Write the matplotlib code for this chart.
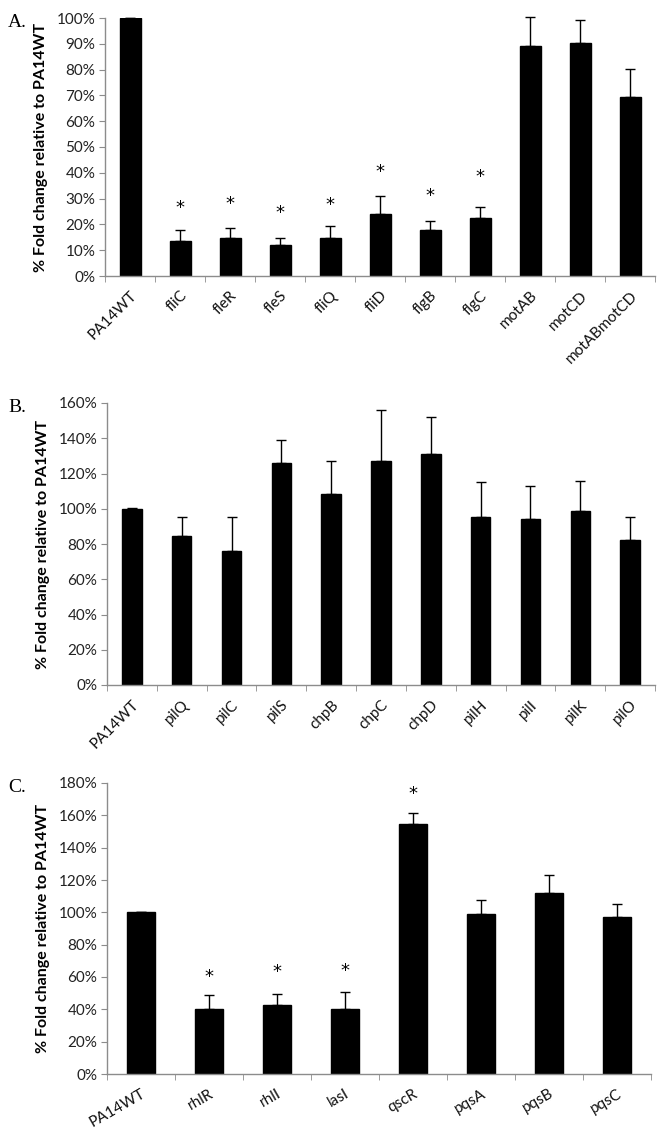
import numpy as np
import matplotlib
matplotlib.use("Agg")
import matplotlib.pyplot as plt
from matplotlib.ticker import FuncFormatter, FixedLocator

# ---------------- data ----------------
cats_a = ["PA14WT", "fliC", "fleR", "fleS", "fliQ", "fliD", "flgB", "flgC", "motAB", "motCD", "motABmotCD"]
vals_a = [100, 13.4, 14.8, 11.9, 14.8, 24.0, 17.8, 22.3, 89.2, 90.3, 69.2]
err_a = [0, 4.3, 3.8, 2.9, 4.7, 7.1, 3.4, 4.4, 11.2, 9.1, 10.9]
star_a = [np.nan, 26.2, 27.9, 24.3, 27.7, 40.3, 31.2, 38.2, np.nan, np.nan, np.nan]

cats_b = ["PA14WT", "pilQ", "pilC", "pilS", "chpB", "chpC", "chpD", "pilH", "pilI", "pilK", "pilO"]
vals_b = [100, 84.6, 76.3, 125.9, 108.5, 126.9, 130.8, 95.2, 94.3, 98.8, 82.2]
err_b = [0.3, 11.0, 19.1, 12.9, 18.4, 29.3, 21.2, 19.9, 18.7, 17.2, 12.9]
star_b = [np.nan] * 11

cats_c = ["PA14WT", "rhlR", "rhlI", "lasI", "qscR", "pqsA", "pqsB", "pqsC"]
vals_c = [100, 40.4, 42.5, 40.4, 154.7, 99.1, 112.0, 97.0]
err_c = [0.3, 8.3, 6.9, 10.4, 7.0, 8.3, 11.4, 7.9]
star_c = [np.nan, 60.0, 63.0, 63.7, 173.0, np.nan, np.nan, np.nan]

ylabel = "% Fold change relative to PA14WT"

W, H = 666, 1129
fig = plt.figure(figsize=(W / 100, H / 100), dpi=100)

def box(x0, x1, ytop, ybot):
    return [x0 / W, 1 - ybot / H, (x1 - x0) / W, (ybot - ytop) / H]

panels = [
    ("A.", cats_a, vals_a, err_a, star_a, 100, 10, box(105, 655, 18, 276), 0.42, 45),
    ("B.", cats_b, vals_b, err_b, star_b, 160, 20, box(107, 655, 403, 685), 0.39, 45),
    ("C.", cats_c, vals_c, err_c, star_c, 180, 20, box(107, 651, 783, 1074), 0.40, 30),
]

grey = "#8c8c8c"
for letter, cats, vals, errs, stars, ymax, step, rect, bw, rot in panels:
    ax = fig.add_axes(rect)
    x = np.arange(len(cats))
    ax.bar(x, vals, width=bw, color="black", edgecolor="black", zorder=2)
    ax.errorbar(x, vals, yerr=[np.zeros(len(errs)), errs], fmt="none",
                ecolor="black", elinewidth=1.0, capsize=3.5, capthick=1.0,
                zorder=3, clip_on=False)
    for xi, s in zip(x, stars):
        if not np.isnan(s):
            ax.text(xi, s, "*", ha="center", va="center", fontsize=13,
                    family="DejaVu Sans", color="black")
    ax.set_xlim(-0.5, len(cats) - 0.5)
    ax.set_ylim(0, ymax)
    ax.set_yticks(np.arange(0, ymax + 0.1, step))
    ax.yaxis.set_major_formatter(FuncFormatter(lambda v, p: f"{int(round(v))}%"))
    ax.set_xticks(x)
    ax.set_xticklabels(cats, rotation=rot, ha="right", rotation_mode="anchor",
                       family="Lato", fontsize=11, color="#111111")
    ax.tick_params(axis="x", length=0, pad=9)
    ax.xaxis.set_minor_locator(FixedLocator(np.arange(-0.5, len(cats), 1.0)))
    ax.tick_params(axis="x", which="minor", length=4, color=grey, direction="out")
    ax.tick_params(axis="y", length=4, color=grey, direction="out", pad=3)
    for lab in ax.get_yticklabels():
        lab.set_family("Lato")
        lab.set_fontsize(11)
        lab.set_color("#222222")
    for sp in ["top", "right"]:
        ax.spines[sp].set_visible(False)
    for sp in ["left", "bottom"]:
        ax.spines[sp].set_color(grey)
        ax.spines[sp].set_linewidth(1.0)
    ax.set_ylabel(ylabel, family="Lato", fontweight="bold", fontsize=11.5)
    ax.yaxis.set_label_coords(-0.104, 0.5)
    pos = ax.get_position()
    fig.text(8 / W, pos.y1 + 4 / H, letter, family="Liberation Serif", fontsize=14,
             ha="left", va="top")

fig.savefig("out.png", dpi=100)
